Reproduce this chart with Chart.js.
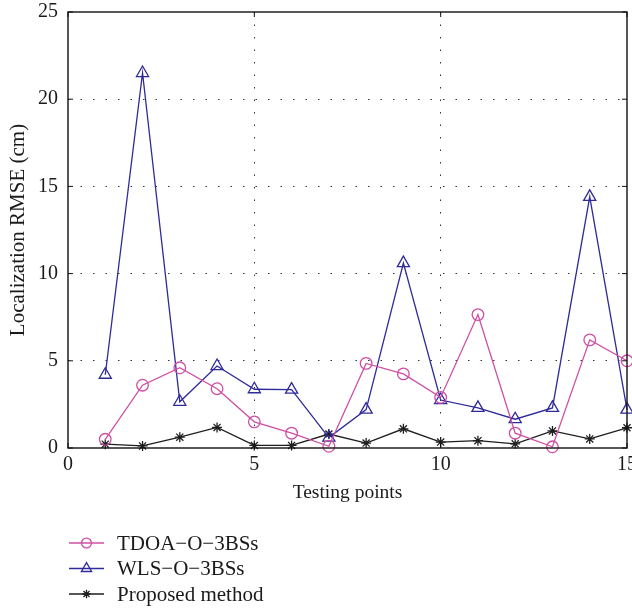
<!DOCTYPE html>
<html>
<head>
<meta charset="utf-8">
<script src="https://cdn.jsdelivr.net/npm/chart.js@4/dist/chart.umd.min.js"></script>
<style>
  html, body { margin: 0; padding: 0; background: #fff; }
  #wrap { width: 632px; height: 610px; }
</style>
</head>
<body>
<div id="wrap"><canvas id="rmseChart" width="632" height="610"></canvas></div>
<script>
// testing points and RMSE values (cm)
const points = [1, 2, 3, 4, 5, 6, 7, 8, 9, 10, 11, 12, 13, 14, 15];
const tdoa = [0.5, 3.6, 4.6, 3.4, 1.5, 0.85, 0.1, 4.85, 4.25, 2.9, 7.65, 0.85, 0.07, 6.2, 5.0];
const wls = [4.2, 21.5, 2.65, 4.7, 3.37, 3.35, 0.6, 2.2, 10.6, 2.75, 2.3, 1.65, 2.3, 14.4, 2.2];
const proposed = [0.22, 0.12, 0.62, 1.18, 0.15, 0.15, 0.8, 0.28, 1.1, 0.34, 0.42, 0.24, 0.98, 0.52, 1.16];
const xTicks = [0, 5, 10, 15];
const yTicks = [0, 5, 10, 15, 20, 25];

const serif = '"Liberation Serif", "DejaVu Serif", serif';
const toXY = vals => vals.map((v, i) => ({ x: points[i], y: v }));

const series = [
  { label: 'TDOA\u2212O\u22123BSs', data: tdoa, color: '#cf4fa3', style: 'circle', radius: 5.8 },
  { label: 'WLS\u2212O\u22123BSs', data: wls, color: '#2e2a9a', style: 'triangle', radius: 7 },
  { label: 'Proposed method', data: proposed, color: '#1e1e1e', style: 'star', radius: 5 }
];

// frame, inward ticks and the line+marker legend below the plot
const framePlugin = {
  id: 'frame',
  afterDraw(chart) {
    const { ctx, chartArea: a, scales } = chart;
    ctx.save();
    ctx.strokeStyle = '#111';
    ctx.lineWidth = 1.4;
    ctx.strokeRect(a.left, a.top, a.right - a.left, a.bottom - a.top);
    ctx.lineWidth = 1;
    xTicks.forEach(t => {
      const x = scales.x.getPixelForValue(t);
      ctx.beginPath();
      ctx.moveTo(x, a.bottom); ctx.lineTo(x, a.bottom - 5);
      ctx.moveTo(x, a.top); ctx.lineTo(x, a.top + 5);
      ctx.stroke();
    });
    yTicks.forEach(t => {
      const y = scales.y.getPixelForValue(t);
      ctx.beginPath();
      ctx.moveTo(a.left, y); ctx.lineTo(a.left + 5, y);
      ctx.moveTo(a.right, y); ctx.lineTo(a.right - 5, y);
      ctx.stroke();
    });

    ctx.font = '21px ' + serif;
    ctx.textBaseline = 'middle';
    series.forEach((s, i) => {
      const y = 543 + i * 25.5;
      ctx.strokeStyle = s.color;
      ctx.fillStyle = 'rgba(0,0,0,0)';
      ctx.lineWidth = 1.3;
      ctx.beginPath();
      ctx.moveTo(69, y); ctx.lineTo(104, y);
      ctx.stroke();
      Chart.helpers.drawPoint(ctx, {
        pointStyle: s.style, radius: s.radius * 0.85, rotation: 0, borderWidth: 1.3
      }, 86.5, y);
      ctx.fillStyle = '#1a1a1a';
      ctx.fillText(s.label, 117, y + 1);
    });
    ctx.restore();
  }
};

new Chart(document.getElementById('rmseChart'), {
  type: 'line',
  data: {
    datasets: series.map(s => ({
      label: s.label,
      data: toXY(s.data),
      borderColor: s.color,
      backgroundColor: 'rgba(0,0,0,0)',
      pointBorderColor: s.color,
      pointBackgroundColor: 'rgba(0,0,0,0)',
      borderWidth: 1.3,
      pointBorderWidth: 1.3,
      pointStyle: s.style,
      pointRadius: s.radius,
      tension: 0,
      fill: false,
      clip: false
    }))
  },
  options: {
    responsive: false,
    animation: false,
    layout: { autoPadding: false, padding: { top: 12, right: 5, bottom: 100, left: 0 } },
    plugins: { legend: { display: false }, tooltip: { enabled: false } },
    scales: {
      x: {
        type: 'linear',
        min: 0, max: 15,
        afterFit: s => { s.height = 62; s.paddingLeft = 0; s.paddingRight = 0; },
        afterBuildTicks: s => { s.ticks = xTicks.map(v => ({ value: v })); },
        grid: {
          drawTicks: false,
          color: c => (c.tick && (c.tick.value === 0 || c.tick.value === 15)) ? 'rgba(0,0,0,0)' : '#333',
          lineWidth: 1
        },
        border: { display: false, dash: [1.5, 11] },
        ticks: { padding: 5, color: '#1a1a1a', font: { family: serif, size: 20 } },
        title: {
          display: true, text: 'Testing points', color: '#1a1a1a',
          font: { family: serif, size: 19.5 }, padding: { top: 0, bottom: 5 }
        }
      },
      y: {
        min: 0, max: 25,
        afterFit: s => { s.width = 68; s.paddingTop = 0; s.paddingBottom = 0; },
        afterBuildTicks: s => { s.ticks = yTicks.map(v => ({ value: v })); },
        grid: {
          drawTicks: false,
          color: c => (c.tick && (c.tick.value === 0 || c.tick.value === 25)) ? 'rgba(0,0,0,0)' : '#333',
          lineWidth: 1
        },
        border: { display: false, dash: [1.5, 11] },
        ticks: { padding: 10, color: '#1a1a1a', font: { family: serif, size: 20 } },
        title: {
          display: true, text: 'Localization RMSE (cm)', color: '#1a1a1a',
          font: { family: serif, size: 21 }, padding: { top: 6, bottom: 0 }
        }
      }
    }
  },
  plugins: [framePlugin]
});
</script>
</body>
</html>
